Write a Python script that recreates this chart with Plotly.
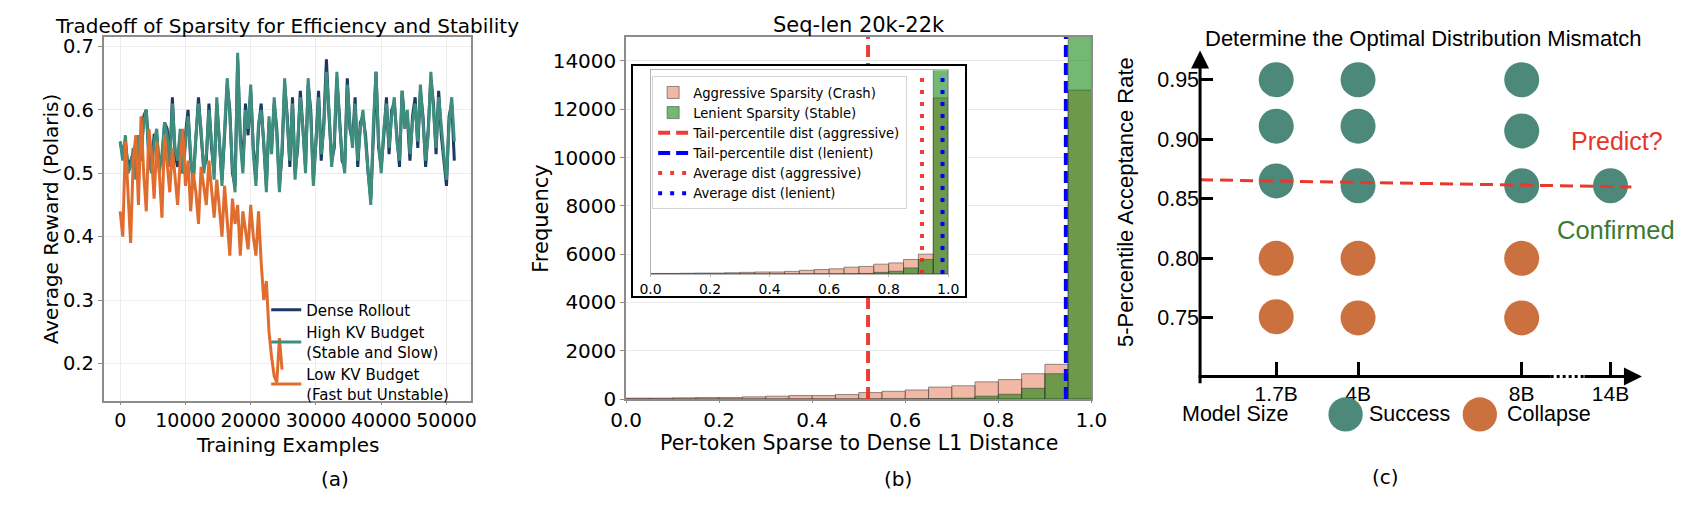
import numpy as np
import plotly.graph_objects as go

W, H = 1706, 520
def fx(p):
    return p / W
def fy(p):
    return 1 - p / H

DJ = "DejaVu Sans"
AR = "Liberation Sans, Arial"

# ---------------- Panel (a) data ----------------
step_a = 400  # training examples between logged points
dense_reward = [
    0.55, 0.53, 0.55, 0.51, 0.52, 0.53, 0.50, 0.56, 0.52, 0.59, 0.60, 0.53, 0.51,
    0.56, 0.56, 0.51, 0.52, 0.58, 0.57, 0.52, 0.62, 0.53, 0.51, 0.56, 0.50,
    0.56, 0.60, 0.52, 0.49, 0.55, 0.62, 0.56, 0.51, 0.52, 0.61, 0.54, 0.50, 0.61,
    0.55, 0.49, 0.56, 0.64, 0.60, 0.50, 0.48, 0.68, 0.56, 0.51, 0.61, 0.56,
    0.63, 0.54, 0.49, 0.57, 0.61, 0.54, 0.48, 0.58, 0.54, 0.61, 0.57, 0.48, 0.53,
    0.64, 0.59, 0.51, 0.62, 0.50, 0.54, 0.63, 0.56, 0.51, 0.64, 0.60, 0.49,
    0.55, 0.63, 0.52, 0.58, 0.68, 0.59, 0.52, 0.54, 0.65, 0.59, 0.52, 0.51, 0.65,
    0.57, 0.55, 0.62, 0.51, 0.58, 0.59, 0.56, 0.50, 0.46, 0.57, 0.66, 0.54,
    0.51, 0.56, 0.62, 0.53, 0.60, 0.61, 0.56, 0.51, 0.63, 0.58, 0.59, 0.52, 0.59,
    0.62, 0.54, 0.63, 0.59, 0.51, 0.57, 0.65, 0.61, 0.53, 0.63, 0.56, 0.52,
    0.48, 0.59, 0.61, 0.52,
]
high_kv_reward = [
    0.55, 0.52, 0.56, 0.50, 0.51, 0.54, 0.49, 0.56, 0.53, 0.58, 0.60, 0.52, 0.50,
    0.55, 0.57, 0.50, 0.53, 0.58, 0.56, 0.51, 0.61, 0.54, 0.52, 0.57, 0.50,
    0.55, 0.59, 0.53, 0.48, 0.56, 0.61, 0.57, 0.50, 0.53, 0.60, 0.55, 0.49, 0.62,
    0.54, 0.48, 0.57, 0.65, 0.59, 0.51, 0.47, 0.69, 0.55, 0.50, 0.60, 0.57,
    0.64, 0.53, 0.48, 0.58, 0.60, 0.55, 0.47, 0.59, 0.53, 0.62, 0.56, 0.47, 0.54,
    0.65, 0.58, 0.52, 0.61, 0.49, 0.55, 0.62, 0.57, 0.50, 0.65, 0.59, 0.48,
    0.56, 0.62, 0.53, 0.57, 0.66, 0.60, 0.51, 0.55, 0.66, 0.58, 0.53, 0.50, 0.64,
    0.58, 0.54, 0.61, 0.52, 0.57, 0.60, 0.55, 0.51, 0.45, 0.58, 0.66, 0.55,
    0.50, 0.57, 0.61, 0.54, 0.59, 0.62, 0.55, 0.52, 0.63, 0.57, 0.60, 0.53, 0.58,
    0.61, 0.55, 0.64, 0.58, 0.52, 0.56, 0.66, 0.60, 0.54, 0.62, 0.57, 0.53,
    0.49, 0.58, 0.62, 0.55,
]
low_kv_reward = [
    0.44, 0.40, 0.55, 0.47, 0.39, 0.52, 0.56, 0.45, 0.59, 0.50, 0.44, 0.57, 0.53,
    0.46, 0.55, 0.50, 0.43, 0.56, 0.51, 0.47, 0.54, 0.49, 0.45, 0.52, 0.57,
    0.48, 0.52, 0.44, 0.50, 0.47, 0.42, 0.51, 0.48, 0.45, 0.52, 0.47, 0.43, 0.49,
    0.45, 0.40, 0.48, 0.43, 0.37, 0.46, 0.42, 0.45, 0.37, 0.44, 0.41, 0.38,
    0.45, 0.40, 0.37, 0.44, 0.36,
    0.30, 0.33, 0.25, 0.21, 0.18, 0.17, 0.24, 0.19,
]
x_ticks_a = [0, 10000, 20000, 30000, 40000, 50000]
y_ticks_a = [0.2, 0.3, 0.4, 0.5, 0.6, 0.7]

# ---------------- Panel (b) data ----------------
bin_edges = [round(0.05 * i, 2) for i in range(21)]
aggressive_counts = [40, 40, 54, 67, 67, 94, 121, 148, 148, 189,
                     270, 323, 377, 498, 552, 714, 808, 1051, 1441, 12790]
lenient_counts = [0, 0, 0, 0, 0, 0, 0, 0, 0, 0,
                  5, 8, 12, 20, 40, 121, 200, 445, 1050, 15400]
tail_dist_aggressive = 0.52
tail_dist_lenient = 0.945
avg_dist_aggressive = 0.912
avg_dist_lenient = 0.981
y_max_b = 15000
y_max_inset = 14800

# ---------------- Panel (c) data ----------------
size_labels = ["1.7B", "4B", "8B", "14B"]
size_slots = [1.0, 2.0, 4.0, 5.085]   # schematic (broken) axis positions
success_sizes = ["1.7B", "1.7B", "1.7B", "4B", "4B", "4B", "8B", "8B", "8B", "14B"]
success_rates = [0.95, 0.911, 0.865, 0.95, 0.911, 0.861, 0.95, 0.907, 0.861, 0.861]
collapse_sizes = ["1.7B", "1.7B", "4B", "4B", "8B", "8B"]
collapse_rates = [0.80, 0.751, 0.80, 0.75, 0.80, 0.75]
threshold_rates = [0.866, 0.860]
y_ticks_c = [0.75, 0.80, 0.85, 0.90, 0.95]

slot_of = dict(zip(size_labels, size_slots))

C_DENSE = "#1e3764"
C_HIGH = "#3e8e7e"
C_LOW = "#e06c2e"
C_SALMON = "rgba(233,150,122,0.68)"
C_GREEN = "rgba(0,128,0,0.55)"
C_EDGE = "rgba(60,60,60,0.55)"
C_SUCC = "#4c897b"
C_COLL = "#cb713f"

fig = go.Figure()

# ---- panel a traces
xa_dense = [i * step_a for i in range(len(dense_reward))]
xa_high = [i * step_a for i in range(len(high_kv_reward))]
xa_low = [i * step_a for i in range(len(low_kv_reward))]
fig.add_trace(go.Scatter(x=xa_dense, y=dense_reward, mode="lines", name="Dense Rollout",
                         line=dict(color=C_DENSE, width=3), xaxis="x", yaxis="y", legend="legend"))
fig.add_trace(go.Scatter(x=xa_high, y=high_kv_reward, mode="lines", name="High KV Budget<br>(Stable and Slow)",
                         line=dict(color=C_HIGH, width=3), xaxis="x", yaxis="y", legend="legend"))
fig.add_trace(go.Scatter(x=xa_low, y=low_kv_reward, mode="lines", name="Low KV Budget<br>(Fast but Unstable)",
                         line=dict(color=C_LOW, width=3), xaxis="x", yaxis="y", legend="legend"))

# ---- panel b traces (main)
centers = [(bin_edges[i] + bin_edges[i + 1]) / 2 for i in range(len(bin_edges) - 1)]
widths = [bin_edges[i + 1] - bin_edges[i] for i in range(len(bin_edges) - 1)]
fig.add_trace(go.Bar(x=centers, y=aggressive_counts, width=widths, name="Aggressive Sparsity (Crash)",
                     marker=dict(color=C_SALMON, line=dict(color=C_EDGE, width=1)),
                     xaxis="x2", yaxis="y2", legend="legend2"))
fig.add_trace(go.Bar(x=centers, y=lenient_counts, width=widths, name="Lenient Sparsity (Stable)",
                     marker=dict(color=C_GREEN, line=dict(color=C_EDGE, width=1)),
                     xaxis="x2", yaxis="y2", legend="legend2"))
fig.add_trace(go.Scatter(x=[tail_dist_aggressive] * 2, y=[0, y_max_b], mode="lines",
                         name="Tail-percentile dist (aggressive)",
                         line=dict(color="rgba(235,40,35,0.9)", width=4, dash="12px,6px"),
                         xaxis="x2", yaxis="y2", legend="legend2"))
fig.add_trace(go.Scatter(x=[tail_dist_lenient] * 2, y=[0, y_max_b], mode="lines",
                         name="Tail-percentile dist (lenient)",
                         line=dict(color="#0000ff", width=4, dash="12px,6px"),
                         xaxis="x2", yaxis="y2", legend="legend2"))

# ---- inset box (x3/y3) - empty frame subplot
fig.add_trace(go.Scatter(x=[], y=[], xaxis="x3", yaxis="y3", showlegend=False))

# ---- inset (x4/y4)
fig.add_trace(go.Bar(x=centers, y=aggressive_counts, width=widths, showlegend=False,
                     marker=dict(color=C_SALMON, line=dict(color=C_EDGE, width=1)),
                     xaxis="x4", yaxis="y4"))
fig.add_trace(go.Bar(x=centers, y=lenient_counts, width=widths, showlegend=False,
                     marker=dict(color=C_GREEN, line=dict(color=C_EDGE, width=1)),
                     xaxis="x4", yaxis="y4"))
fig.add_trace(go.Scatter(x=[avg_dist_aggressive] * 2, y=[0, y_max_inset], mode="lines",
                         name="Average dist (aggressive)",
                         line=dict(color="rgba(235,40,35,0.9)", width=4, dash="4px,8px"),
                         xaxis="x4", yaxis="y4", legend="legend2"))
fig.add_trace(go.Scatter(x=[avg_dist_lenient] * 2, y=[0, y_max_inset], mode="lines",
                         name="Average dist (lenient)",
                         line=dict(color="#0000ff", width=4, dash="4px,8px"),
                         xaxis="x4", yaxis="y4", legend="legend2"))

# ---- panel c traces
fig.add_trace(go.Scatter(x=[slot_of[s] for s in success_sizes], y=success_rates, mode="markers",
                         marker=dict(color=C_SUCC, size=35), showlegend=False,
                         xaxis="x5", yaxis="y5", cliponaxis=False))
fig.add_trace(go.Scatter(x=[slot_of[s] for s in collapse_sizes], y=collapse_rates, mode="markers",
                         marker=dict(color=C_COLL, size=35), showlegend=False,
                         xaxis="x5", yaxis="y5", cliponaxis=False))
xc_range = [0.0695, 5.469]
fig.add_trace(go.Scatter(x=[xc_range[0], 5.34], y=threshold_rates, mode="lines",
                         line=dict(color="#e8392f", width=3, dash="13px,7px"), showlegend=False,
                         xaxis="x5", yaxis="y5", cliponaxis=False))

gray_frame = "#8c8c8c"
axis_common = dict(zeroline=False)

layout = dict(
    width=W, height=H,
    margin=dict(l=0, r=0, t=0, b=0),
    paper_bgcolor="white", plot_bgcolor="white",
    barmode="overlay",
    font=dict(family=DJ, color="black"),
    # panel a
    xaxis=dict(domain=[fx(89.3), fx(464)], range=[-2536, 53800], anchor="y",
               tickvals=x_ticks_a, tickformat="d", tickfont=dict(size=19, family=DJ),
               showgrid=True, gridcolor="#ececec", gridwidth=1,
               showline=True, linecolor=gray_frame, linewidth=1.5, mirror=True,
               ticks="outside", ticklen=2, tickcolor=gray_frame, ticklabelstandoff=0,
               **axis_common),
    yaxis=dict(domain=[fy(410), fy(36.7)], range=[0.141, 0.7154], anchor="x",
               tickvals=y_ticks_a, tickformat=".1f", tickfont=dict(size=19.5, family=DJ),
               showgrid=True, gridcolor="#ececec", gridwidth=1,
               showline=True, linecolor=gray_frame, linewidth=1.5, mirror=True,
               ticks="outside", ticklen=4, tickcolor=gray_frame, **axis_common),
    # panel b
    xaxis2=dict(domain=[fx(621.7), fx(1096)], range=[0, 1], anchor="y2",
                dtick=0.2, tickformat=".1f", tickfont=dict(size=20, family=DJ),
                showgrid=False, showline=True, linecolor=gray_frame, linewidth=1.5, mirror=True,
                ticks="outside", ticklen=2, tickcolor=gray_frame, ticklabelstandoff=0,
                **axis_common),
    yaxis2=dict(domain=[fy(408.3), fy(36.7)], range=[0, y_max_b], anchor="x2",
                dtick=2000, tickformat="d", tickfont=dict(size=20, family=DJ),
                showgrid=True, gridcolor="#e8e8e8",
                showline=True, linecolor=gray_frame, linewidth=1.5, mirror=True,
                ticks="outside", ticklen=4, tickcolor=gray_frame, **axis_common),
    # inset frame box
    xaxis3=dict(domain=[fx(629.3), fx(967.3)], range=[0, 1], anchor="y3",
                showticklabels=False, showgrid=False, ticks="",
                showline=True, linecolor="black", linewidth=1.5, mirror=True, **axis_common),
    yaxis3=dict(domain=[fy(302.7), fy(66.7)], range=[0, 1], anchor="x3",
                showticklabels=False, showgrid=False, ticks="",
                showline=True, linecolor="black", linewidth=1.5, mirror=True, **axis_common),
    # inset axes
    xaxis4=dict(domain=[fx(646.7), fx(950)], range=[0, 1], anchor="y4",
                dtick=0.2, tickformat=".1f", tickfont=dict(size=14, family=DJ),
                showgrid=False, showline=True, linecolor="#b5b5b5", linewidth=1, mirror=True,
                ticks="outside", ticklen=2, tickcolor="#b5b5b5", **axis_common),
    yaxis4=dict(domain=[fy(280), fy(71)], range=[0, y_max_inset], anchor="x4",
                showticklabels=False, showgrid=False, ticks="",
                showline=True, linecolor="#b5b5b5", linewidth=1, mirror=True, **axis_common),
    # panel c
    xaxis5=dict(domain=[fx(1206.7), fx(1657)], range=xc_range, anchor="y5",
                tickvals=size_slots, ticktext=size_labels,
                tickfont=dict(size=21, family=AR), ticks="inside", ticklen=14, tickwidth=3,
                tickcolor="black", showgrid=False, showline=False, ticklabelstandoff=3,
                **axis_common),
    yaxis5=dict(domain=[fy(385), fy(50.7)], range=[0.7009, 0.9746], anchor="x5",
                tickvals=y_ticks_c, tickformat=".2f",
                tickfont=dict(size=21.5, family=AR), ticks="inside", ticklen=13, tickwidth=3,
                tickcolor="black", showgrid=False, showline=False, ticklabelstandoff=0,
                **axis_common),
    legend=dict(x=fx(255), y=fy(300), xanchor="left", yanchor="top",
                bgcolor="rgba(0,0,0,0)", borderwidth=0,
                font=dict(size=15, family=DJ), tracegroupgap=0, valign="middle"),
    legend2=dict(x=fx(648.3), y=fy(77.3), xanchor="left", yanchor="top",
                 bgcolor="rgba(255,255,255,0.85)", bordercolor="#d4d4d4", borderwidth=1,
                 font=dict(size=13.2, family=DJ), tracegroupgap=0),
    showlegend=True,
)
fig.update_layout(**layout)

ann = []
def text(x, y, s, size, family=DJ, color="black", angle=0, xanchor="center"):
    ann.append(dict(x=fx(x), y=fy(y), xref="paper", yref="paper", text=s, showarrow=False,
                    font=dict(size=size, family=family, color=color), textangle=angle,
                    xanchor=xanchor, yanchor="middle"))

# panel a texts
text(276.6, 25.5, "Tradeoff of Sparsity for Efficiency and Stability", 20)
text(36, 223.5, "Average Reward (Polaris)", 20, angle=-90)
text(277, 455, "Training Examples", 20)
text(325, 490, "(a)", 20)
# panel b texts
text(858.9, 25, "Seq-len 20k-22k", 21)
text(534.8, 222.5, "Frequency", 21, angle=-90)
text(858.9, 453, "Per-token Sparse to Dense L1 Distance", 20.5)
text(899, 490, "(b)", 20)
# panel c texts
text(1434, 38.3, "Determine the Optimal Distribution Mismatch", 22, family=AR)
text(1130.7, 205.7, "5-Percentile Acceptance Rate", 22, family=AR, angle=-90)
text(1631.6, 143.3, "Predict?", 25, family=AR, color="#e5352a")
text(1630.7, 235, "Confirmed", 25.5, family=AR, color="#3a7a31")
text(1186, 424, "Model Size", 21.5, family=AR, xanchor="left")
text(1376.7, 424, "Success", 21.5, family=AR, xanchor="left")
text(1517.3, 424, "Collapse", 21.5, family=AR, xanchor="left")
text(1396, 488, "(c)", 20)

# axis arrows for panel c
ann.append(dict(x=fx(1206.7), y=fy(50.7), xref="paper", yref="paper", text="", showarrow=True,
                ax=0, ay=334.3, arrowhead=2, arrowsize=1.2, arrowwidth=3, arrowcolor="black",
                standoff=0, startstandoff=0))
ann.append(dict(x=fx(1657), y=fy(385), xref="paper", yref="paper", text="", showarrow=True,
                ax=-59, ay=0, arrowhead=2, arrowsize=1.2, arrowwidth=3, arrowcolor="black",
                standoff=0, startstandoff=0))
fig.update_layout(annotations=ann)

shapes = [
    dict(type="line", xref="paper", yref="paper", x0=fx(1205.2), x1=fx(1564), y0=fy(385), y1=fy(385),
         line=dict(color="black", width=3), layer="above"),
    dict(type="line", xref="paper", yref="paper", x0=fx(1564), x1=fx(1598), y0=fy(385), y1=fy(385),
         line=dict(color="black", width=3, dash="dot"), layer="above"),
    dict(type="circle", xref="paper", yref="paper", x0=fx(1355 - 17.5), x1=fx(1355 + 17.5),
         y0=fy(424 + 17.5), y1=fy(424 - 17.5), fillcolor=C_SUCC, line=dict(width=0), layer="above"),
    dict(type="circle", xref="paper", yref="paper", x0=fx(1491.8 - 17.5), x1=fx(1491.8 + 17.5),
         y0=fy(424 + 17.5), y1=fy(424 - 17.5), fillcolor=C_COLL, line=dict(width=0), layer="above"),
]
fig.update_layout(shapes=shapes)

fig.write_html("out.html")
